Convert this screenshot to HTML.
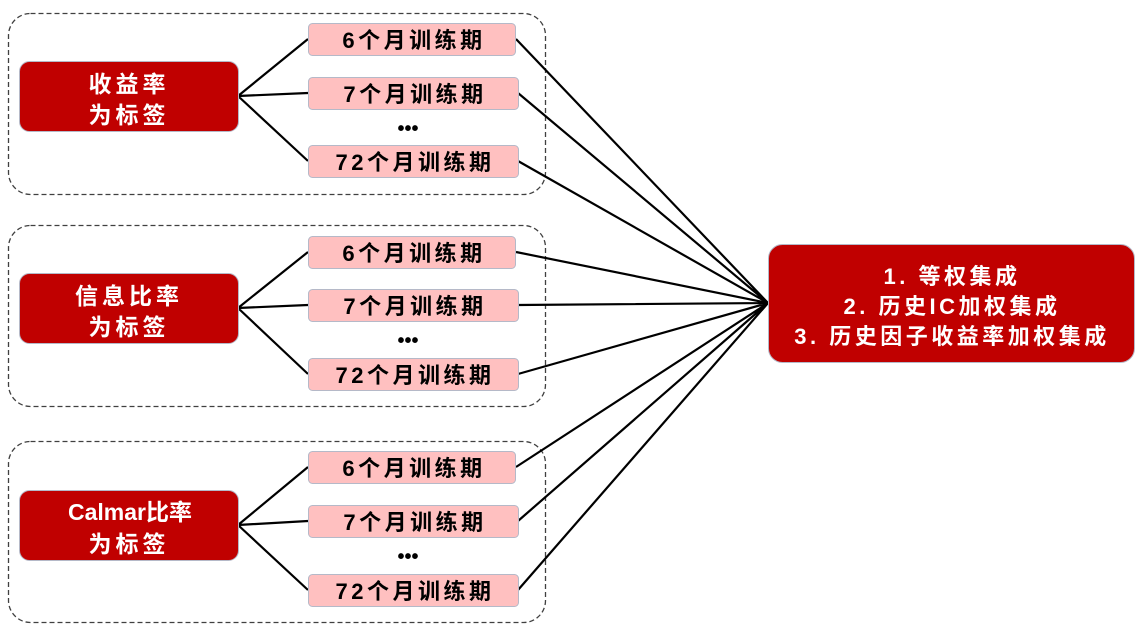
<!DOCTYPE html>
<html><head><meta charset="utf-8"><style>
html,body{margin:0;padding:0;background:#fff;width:1140px;height:636px;overflow:hidden}
text{font-family:"Liberation Sans","Noto Sans CJK SC",sans-serif;font-weight:bold}
</style></head><body>
<svg width="1140" height="636" viewBox="0 0 1140 636" xmlns="http://www.w3.org/2000/svg">
<g fill="none" stroke="#404040" stroke-width="1.3" stroke-dasharray="5,3">
<rect x="8.5" y="13.5" width="537" height="181" rx="22"/>
<rect x="8.5" y="225.5" width="537" height="181" rx="22"/>
<rect x="8.5" y="441.5" width="537" height="181" rx="22"/>
</g>
<g stroke="#000" stroke-width="2.2" fill="none">
<path d="M238 96 L308 39 M238 96 L308 93 M238 96 L308 161"/>
<path d="M238 308 L308 252 M238 308 L308 305 M238 308 L308 374"/>
<path d="M238 525 L308 467 M238 525 L308 521 M238 525 L308 590"/>
<path d="M516 39 L768 303 M518 93 L768 303 M518 161 L768 303"/>
<path d="M516 252 L768 303 M518 305 L768 303 M518 374 L768 303"/>
<path d="M516 467 L768 303 M518 521 L768 303 M518 590 L768 303"/>
</g>
<g fill="#c00000" stroke="#b5b9c8" stroke-width="1">
<rect x="19.5" y="61.5" width="219" height="70" rx="10"/>
<rect x="19.5" y="273.5" width="219" height="70" rx="10"/>
<rect x="19.5" y="490.5" width="219" height="70" rx="10"/>
<rect x="768.5" y="244.5" width="366" height="118" rx="14"/>
</g>
<g fill="#ffc0c0" stroke="#b5b9c8" stroke-width="1">
<rect x="308.5" y="23.5" width="207" height="32" rx="4"/>
<rect x="308.5" y="77.5" width="210" height="32" rx="4"/>
<rect x="308.5" y="145.5" width="210" height="32" rx="4"/>
<rect x="308.5" y="236.5" width="207" height="32" rx="4"/>
<rect x="308.5" y="289.5" width="210" height="32" rx="4"/>
<rect x="308.5" y="358.5" width="210" height="32" rx="4"/>
<rect x="308.5" y="451.5" width="207" height="32" rx="4"/>
<rect x="308.5" y="505.5" width="210" height="32" rx="4"/>
<rect x="308.5" y="574.5" width="210" height="32" rx="4"/>
</g>
<g font-size="22" fill="#000" text-anchor="middle" letter-spacing="3.5">
<text x="414" y="48">6个月训练期</text>
<text x="415" y="102">7个月训练期</text>
<text x="415" y="170">72个月训练期</text>
<text x="414" y="261">6个月训练期</text>
<text x="415" y="314">7个月训练期</text>
<text x="415" y="383">72个月训练期</text>
<text x="414" y="476">6个月训练期</text>
<text x="415" y="530">7个月训练期</text>
<text x="415" y="599">72个月训练期</text>
</g>
<g font-size="20" fill="#000" text-anchor="middle" letter-spacing="0">
<text x="408" y="135">•••</text>
<text x="408" y="347">•••</text>
<text x="408" y="563">•••</text>
</g>
<g font-size="23" fill="#fff" text-anchor="middle" letter-spacing="4">
<text x="129" y="92">收益率</text>
<text x="129" y="123">为标签</text>
<text x="129" y="304">信息比率</text>
<text x="129" y="335">为标签</text>
<text x="130" y="520" letter-spacing="0">Calmar比率</text>
<text x="129" y="552">为标签</text>
</g>
<g font-size="22" fill="#fff" text-anchor="middle" letter-spacing="3.5">
<text x="952" y="284">1. 等权集成</text>
<text x="952" y="314">2. 历史IC加权集成</text>
<text x="952" y="344">3. 历史因子收益率加权集成</text>
</g>
</svg>
</body></html>
